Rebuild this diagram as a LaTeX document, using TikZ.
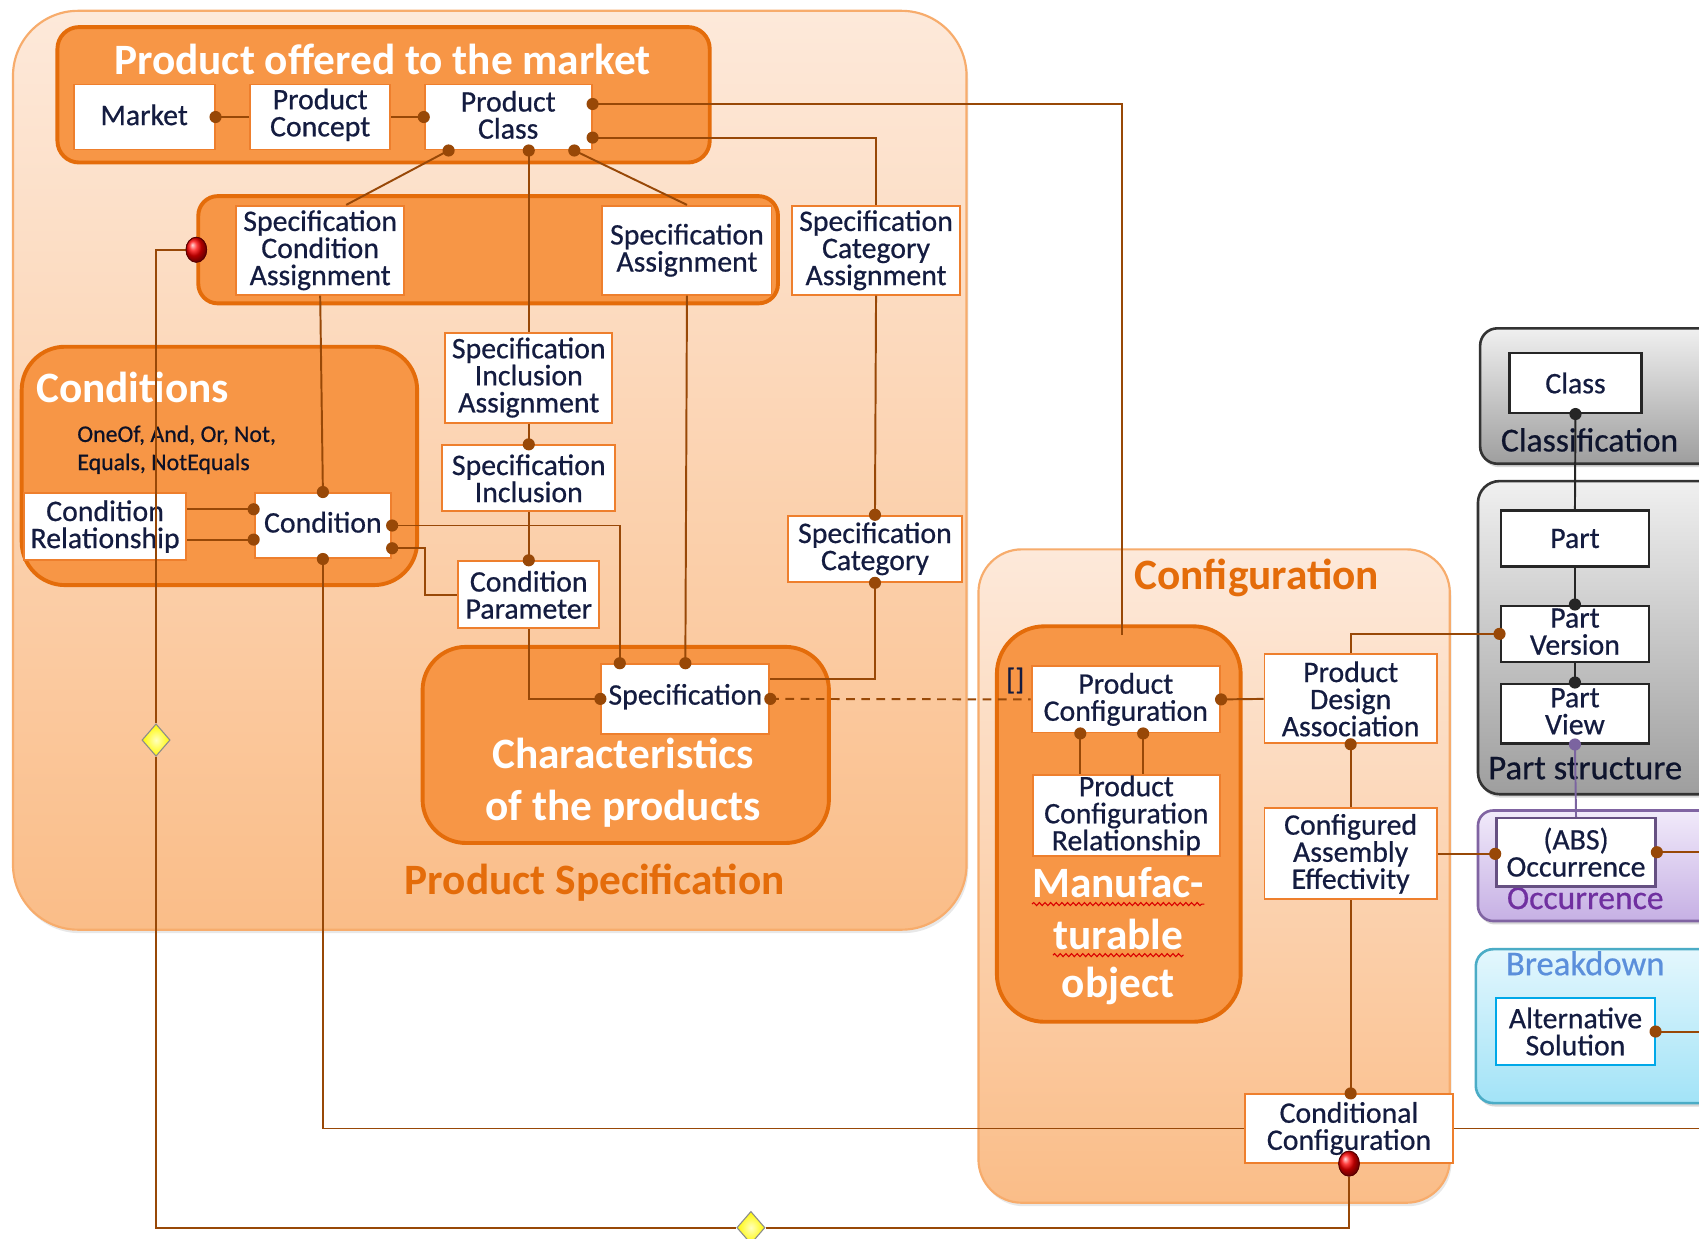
\documentclass[tikz,border=0pt]{standalone}
\usepackage{fontspec}
\setmainfont{Carlito}
\newfontfamily\heavyfam{Carlito}[FakeBold=0.6]
\usetikzlibrary{fit,shapes.geometric,shadows,decorations.pathmorphing}

\definecolor{orfill}{HTML}{F79646}
\definecolor{orline}{HTML}{E46C0A}
\definecolor{peachtop}{HTML}{FDE9DA}
\definecolor{peachbot}{HTML}{FABD88}
\definecolor{peachline}{HTML}{F7AC6C}
\definecolor{boxline}{HTML}{EE7F2D}
\definecolor{brn}{HTML}{984807}
\definecolor{txt}{HTML}{141C40}
\definecolor{occline}{HTML}{8064A2}
\definecolor{occtxt}{HTML}{7030A0}
\definecolor{occtop}{HTML}{F1EAFA}
\definecolor{occbot}{HTML}{C6B0E4}
\definecolor{bdline}{HTML}{4BACC6}
\definecolor{bdtop}{HTML}{E4F7FD}
\definecolor{bdbot}{HTML}{A2E3F7}
\definecolor{bdtxt}{HTML}{5B8FDB}
\definecolor{altline}{HTML}{00A8E8}
\definecolor{pvline}{HTML}{7B64A0}

\newcommand\boxfont{\heavyfam\fontsize{13.75}{12.5}\selectfont}
\newcommand\titlefont{\fontsize{20}{24}\selectfont\bfseries}
\newcommand\pdot[2][brn]{\fill[#1] (#2) circle[radius=2.8pt];}

\tikzset{
  outergrp/.style={draw=peachline, line width=1pt, top color=peachtop, bottom color=peachbot,
    inner sep=0pt, drop shadow={opacity=0.18, shadow xshift=0.8pt, shadow yshift=-1.6pt}},
  orgrp/.style={draw=orline, line width=1.8pt, fill=orfill, inner sep=0pt},
  graygrp/.style={draw=black!80, line width=1.2pt, top color=black!6, bottom color=black!38,
    inner sep=0pt, drop shadow={opacity=0.3, shadow xshift=0.8pt, shadow yshift=-1.6pt}},
  box/.style={draw=boxline, line width=0.9pt, fill=white, inner sep=0pt},
  graybox/.style={box, draw=black!85, line width=1.1pt},
  boxtxt/.style={inner sep=0pt, align=center, font=\boxfont, text=txt},
  wtitle/.style={font=\titlefont, text=white, inner sep=0pt, align=center},
  otitle/.style={font=\titlefont, text=orline, inner sep=0pt},
  conn/.style={draw=brn, line width=0.9pt},
  blkconn/.style={draw=black!85, line width=0.9pt},
  redball/.style={ellipse, minimum width=9.5pt, minimum height=11.5pt, inner sep=0pt,
    ball color=red, draw=red!35!black, line width=0.4pt},
  ydia/.style={diamond, minimum width=13pt, minimum height=15pt, inner sep=0pt,
    draw=black!45, line width=0.5pt, inner color=yellow!25, outer color=yellow!95!orange},
  squiggle/.style={draw=red!85!black, line width=0.5pt, decorate,
    decoration={snake, amplitude=0.7pt, segment length=2.6pt}}
}

\begin{document}
\begin{tikzpicture}[x=0.5pt, y=-0.5pt]
\useasboundingbox (0,0) rectangle (1568,1143);
\clip (0,0) rectangle (1568,1143);
\fill[white] (0,0) rectangle (1568,1143);

% ---- group areas ----
\node[outergrp, rounded corners=30pt, fit={(12,10) (892,858)}] (psgrp) {};
\node[orgrp, rounded corners=10pt, fit={(53,25) (655,150)}] (mktgrp) {};
\node[orgrp, rounded corners=9pt, fit={(183,181) (718,280)}] (sagrp) {};
\node[orgrp, rounded corners=20pt, fit={(20,320) (385,540)}] (condgrp) {};
\node[orgrp, rounded corners=20pt, fit={(390,597) (765,778)}] (chargrp) {};
\node[outergrp, rounded corners=20pt, fit={(903,507) (1338,1110)}] (cfggrp) {};
\node[orgrp, rounded corners=22pt, fit={(920,578) (1145,943)}] (mfg) {};
\node[graygrp, rounded corners=8pt, fit={(1366,303) (1600,428)}] (clsgrp) {};
\node[graygrp, rounded corners=10pt, fit={(1364,444) (1600,733)}] (pstgrp) {};
\node[graygrp, draw=occline, top color=occtop, bottom color=occbot, rounded corners=7pt,
  fit={(1364,748) (1600,850)}] (occgrp) {};
\node[graygrp, draw=bdline, top color=bdtop, bottom color=bdbot, rounded corners=8pt,
  fit={(1362,876) (1600,1018)}] (bdgrp) {};

% ---- group titles ----
\node[wtitle] (mkttitle) at (353,55) {Product offered to the market};
\node[wtitle, anchor=west] (condtitle) at (33,358) {Conditions};
\node[anchor=west, align=left, inner sep=0pt, text=txt!60!black, font=\heavyfam\fontsize{11}{13}\selectfont]
  (condops) at (71,415) {OneOf, And, Or, Not,\\Equals, NotEquals};
\node[wtitle] (chartitle) at (575,722) {Characteristics\\of the products};
\node[otitle] (pstitle) at (549,815) {Product Specification};
\node[otitle] (cfgtitle) at (1160,533) {Configuration};
\node[wtitle] (mfgL1) at (1032,815) {Manufac-};
\node[wtitle] (mfgL2) at (1032,862) {turable};
\node[wtitle] (mfgL3) at (1032,910) {object};
\draw[squiggle] ([yshift=-2.8pt]mfgL1.base west) -- ([yshift=-2.8pt]mfgL1.base east);
\draw[squiggle] ([yshift=-2.8pt]mfgL2.base west) -- ([yshift=-2.8pt]mfgL2.base east);
\node[inner sep=0pt, text=txt!70!black, font=\heavyfam\fontsize{15.5}{18}\selectfont] (clstitle) at (1467,406) {Classification};
\node[inner sep=0pt, text=txt!70!black, font=\heavyfam\fontsize{16}{18}\selectfont] (psttitle) at (1463,709) {Part structure};
\node[inner sep=0pt, text=occtxt, font=\heavyfam\fontsize{15.5}{18}\selectfont] (occtitle) at (1463,829) {Occurrence};
\node[inner sep=0pt, text=bdtxt, font=\heavyfam\fontsize{16}{18}\selectfont] (bdtitle) at (1463,889) {Breakdown};

% ---- entity boxes ----
\node[box, fit={(68,78) (198,138)}] (market) {};
\node[box, fit={(231,78) (360,138)}] (pconcept) {};
\node[box, fit={(392,78) (546,138)}] (pclass) {};
\node[box, fit={(218,190) (373,272)}] (scondasg) {};
\node[box, fit={(556,190) (712,272)}] (sasg) {};
\node[box, fit={(731,190) (886,272)}] (scatasg) {};
\node[box, fit={(411,307) (565,390)}] (sinclasg) {};
\node[box, fit={(408,411) (568,472)}] (sincl) {};
\node[box, fit={(22,455) (172,517)}] (crel) {};
\node[box, fit={(235,455) (361,515)}] (cond) {};
\node[box, fit={(423,518) (553,580)}] (condparam) {};
\node[box, fit={(727,476) (888,537)}] (scat) {};
\node[box, fit={(555,613) (710,677)}] (spec) {};
\node[box, fit={(952,615) (1126,676)}] (pconf) {};
\node[box, fit={(953,715) (1126,790)}] (pcr) {};
\node[box, fit={(1167,604) (1326,686)}] (pda) {};
\node[box, fit={(1167,746) (1326,830)}] (cae) {};
\node[box, fit={(1149,1010) (1341,1073)}] (condcfg) {};
\node[graybox, fit={(1393,326) (1515,381)}] (class) {};
\node[graybox, fit={(1385,471) (1522,523)}] (part) {};
\node[graybox, fit={(1385,559) (1522,611)}] (pver) {};
\node[graybox, fit={(1385,631) (1522,686)}] (pview) {};
\node[graybox, draw=occline!80!black, fit={(1381,755) (1528,818)}] (absocc) {};
\node[box, draw=altline, fit={(1381,921) (1527,983)}] (altsol) {};

% ---- entity names ----
\node[boxtxt] (marketT) at ([yshift=1pt]market.center) {Market};
\node[boxtxt] (pconceptT) at ([yshift=1pt]pconcept.center) {Product\\Concept};
\node[boxtxt] (pclassT) at ([yshift=1pt]pclass.center) {Product\\Class};
\node[boxtxt] (scondasgT) at (scondasg) {Specification\\Condition\\Assignment};
\node[boxtxt] (sasgT) at (sasg) {Specification\\Assignment};
\node[boxtxt] (scatasgT) at (scatasg) {Specification\\Category\\Assignment};
\node[boxtxt] (sinclasgT) at (sinclasg) {Specification\\Inclusion\\Assignment};
\node[boxtxt] (sinclT) at (sincl) {Specification\\Inclusion};
\node[boxtxt] (crelT) at (crel) {Condition\\Relationship};
\node[boxtxt] (condT) at ([yshift=1.5pt]cond.center) {Condition};
\node[boxtxt] (condparamT) at (condparam) {Condition\\Parameter};
\node[boxtxt] (scatT) at (scat) {Specification\\Category};
\node[boxtxt] (specT) at ([yshift=1pt]spec.center) {Specification};
\node[boxtxt] (pconfT) at (pconf) {Product\\Configuration};
\node[boxtxt] (pcrT) at (pcr) {Product\\Configuration\\Relationship};
\node[boxtxt] (pdaT) at (pda) {Product\\Design\\Association};
\node[boxtxt] (caeT) at (cae) {Configured\\Assembly\\Effectivity};
\node[boxtxt] (condcfgT) at (condcfg) {Conditional\\Configuration};
\node[boxtxt] (classT) at (class) {Class};
\node[boxtxt] (partT) at (part) {Part};
\node[boxtxt] (pverT) at ([yshift=1pt]pver.center) {Part\\Version};
\node[boxtxt] (pviewT) at ([yshift=1pt]pview.center) {Part\\View};
\node[boxtxt] (absoccT) at (absocc) {(ABS)\\Occurrence};
\node[boxtxt] (altsolT) at (altsol) {Alternative\\Solution};
\node[boxtxt] (mult) at (937,628) {[]};

% ---- ports ----
\coordinate (pcR1) at ([yshift=6pt]pclass.east);
\coordinate (pcR2) at ([yshift=-9.5pt]pclass.east);
\coordinate (pcB1) at ([xshift=-27.5pt]pclass.south);
\coordinate (pcB2) at (sinclasg.north |- pclass.south);
\coordinate (pcB3) at ([xshift=30.5pt]pclass.south);
\coordinate (scaT) at ([xshift=12pt]scondasg.north);
\coordinate (crU) at ([yshift=8pt]crel.east);
\coordinate (crL) at ([yshift=-6pt]crel.east);
\coordinate (condR2) at ([yshift=-10.5pt]cond.east);
\coordinate (specT1) at ([xshift=-30.25pt]spec.north);
\coordinate (specR2) at ([yshift=9pt]spec.east);
\coordinate (mfgT) at ([xshift=1.3pt,yshift=-5pt]mfg.north);
\coordinate (pcfB1) at ([xshift=-21pt]pconf.south);
\coordinate (pcfB2) at ([xshift=8pt]pconf.south);
\coordinate (edgeA) at (1580,786.5);
\coordinate (edgeB) at (1580,952);
\coordinate (edgeC) at (1580,1041.5);

% ---- connectors ----
\draw[conn] (market.east) -- (pconcept.west);
\draw[conn] (pconcept.east) -- (pclass.west);
\draw[conn] (pcR1) -| (mfgT);
\draw[conn] (pcR2) -| (scatasg.north);
\draw[conn] (pcB1) -- (scaT);
\draw[conn] (pcB2) -- (sinclasg.north);
\draw[conn] (pcB3) -- (sasg.north);
\draw[conn] (scondasg.south) -- (cond.north);
\draw[conn] (crU) -- (crU -| cond.west);
\draw[conn] (crL) -- (crL -| cond.west);
\draw[conn] (cond.east) -| (specT1);
\draw[conn] (condR2) -- ++(15pt,0) |- (condparam.west);
\draw[conn] (cond.south) |- (condcfg.west);
\draw[conn] (sasg.south) -- (spec.north);
\draw[conn] (sinclasg.south) -- (sincl.north);
\draw[conn] (sincl.south) -- (condparam.north);
\draw[conn] (condparam.south) |- (spec.west);
\draw[conn] (scatasg.south) -- (scat.north);
\draw[conn] (scat.south) |- (specR2);
\draw[conn, dash pattern=on 4pt off 3pt] (spec.east) -- (pconf.west);
\draw[conn] (pconf.east) -- (pda.west);
\draw[conn] (pcfB1) -- (pcfB1 |- pcr.north);
\draw[conn] (pcfB2) -- (pcfB2 |- pcr.north);
\draw[conn] (pda.north) |- (pver.west);
\draw[conn] (pda.south) -- (cae.north);
\draw[conn] (cae.south) -- (cae.south |- condcfg.north);
\draw[conn] (cae.east) -- (cae.east -| absocc.west);
\draw[conn] (absocc.east) -- (edgeA);
\draw[conn] (altsol.east) -- (edgeB);
\draw[conn] (condcfg.east) -- (edgeC);
\draw[blkconn] (class.south) -- (part.north);
\draw[blkconn] (part.south) -- (pver.north);
\draw[blkconn] (pver.south) -- (pview.north);
\draw[draw=pvline, line width=0.9pt] (pview.south) -- (absocc.north);

% ---- conditional link with gates ----
\node[redball] (redA) at (sagrp.west) {};
\node[redball] (redB) at (condcfg.south) {};
\node[ydia] (dia1) at (144,683) {};
\node[ydia] (dia2) at (693,1133) {};
\draw[conn] (redA.west) -| (dia1.north);
\draw[conn] (dia1.south) |- (dia2.west);
\draw[conn] (dia2.east) -| (redB.south);
\node[redball] (redAtop) at (redA) {};
\node[redball] (redBtop) at (redB) {};

% ---- connector ends ----
\pdot{market.east}
\pdot{pclass.west}
\pdot{pcR1}
\pdot{pcR2}
\pdot{pcB1}
\pdot{pcB2}
\pdot{pcB3}
\pdot{cond.north}
\pdot{crU -| cond.west}
\pdot{crL -| cond.west}
\pdot{cond.east}
\pdot{condR2}
\pdot{cond.south}
\pdot{specT1}
\pdot{spec.north}
\pdot{spec.west}
\pdot{spec.east}
\pdot{sincl.north}
\pdot{condparam.north}
\pdot{scat.north}
\pdot{scat.south}
\pdot{pconf.east}
\pdot{pcfB1}
\pdot{pcfB2}
\pdot{pver.west}
\pdot{pda.south}
\pdot{cae.south |- condcfg.north}
\pdot{cae.east -| absocc.west}
\pdot{absocc.east}
\pdot{altsol.east}
\pdot[black!85]{class.south}
\pdot[black!85]{pver.north}
\pdot[black!85]{pview.north}
\pdot[pvline]{pview.south}
\end{tikzpicture}
\end{document}
